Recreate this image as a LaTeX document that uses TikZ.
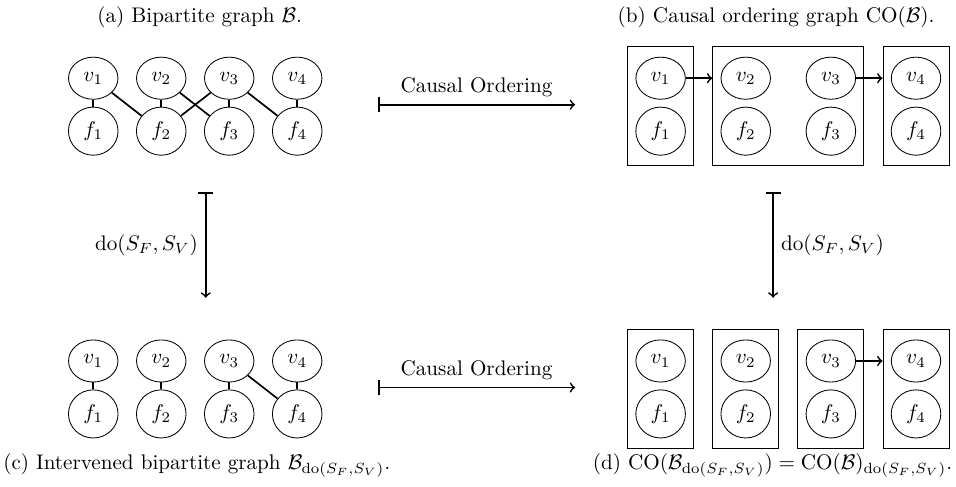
\documentclass[tikz,border=0pt]{standalone}
\usepackage{amssymb}
\usepackage{amsmath}
\usepackage{tikz}
\usetikzlibrary{shapes,arrows}
\usetikzlibrary{positioning}
\usetikzlibrary{fit}
\tikzset{auto, >=to, node distance=1cm, font=\fontsize{10}{12}\selectfont}
\tikzstyle{var} = [draw, ellipse, inner sep=3.6pt, minimum height=0.7cm, on grid]
\tikzstyle{cluster} = [draw, rectangle, inner xsep=3.7pt, inner ysep=4.8pt]
\tikzstyle{edge} = [thick]
\tikzstyle{map} = [thick, |->]
\tikzstyle{input} = [coordinate]
\tikzstyle{caption} = [anchor=base]
\newcommand{\Bg}{\mathcal{B}}
\newcommand{\CO}{\mathrm{CO}}
\newcommand{\dosv}{\mathrm{do}(S_F,S_V)}

\begin{document}
\begin{tikzpicture}
	\useasboundingbox (0,0) rectangle (15.89,-8.09);

	% (a) bipartite graph
	\node [var] (v1) at (1.55,-1.3) {$v_1$};
	\node [var, right=1.13cm of v1] (v2) {$v_2$};
	\node [var, right=1.13cm of v2] (v3) {$v_3$};
	\node [var, right=1.13cm of v3] (v4) {$v_4$};
	\node [var, below=0.88cm of v1] (f1) {$f_1$};
	\node [var, below=0.88cm of v2] (f2) {$f_2$};
	\node [var, below=0.88cm of v3] (f3) {$f_3$};
	\node [var, below=0.88cm of v4] (f4) {$f_4$};
	\node [caption] (cap_a) at (3.32,-0.37) {(a) Bipartite graph $\Bg$.};

	% (b) causal ordering graph
	\node [var] (cv1) at (10.98,-1.3) {$v_1$};
	\node [var, right=1.415cm of cv1] (cv2) {$v_2$};
	\node [var, right=1.415cm of cv2] (cv3) {$v_3$};
	\node [var, right=1.415cm of cv3] (cv4) {$v_4$};
	\node [var, below=0.88cm of cv1] (cf1) {$f_1$};
	\node [var, below=0.88cm of cv2] (cf2) {$f_2$};
	\node [var, below=0.88cm of cv3] (cf3) {$f_3$};
	\node [var, below=0.88cm of cv4] (cf4) {$f_4$};
	\node [cluster, fit=(cv1)(cf1)] (cc1) {};
	\node [cluster, fit=(cv2)(cf3)] (cc23) {};
	\node [cluster, fit=(cv4)(cf4)] (cc4) {};
	\node [caption] (cap_b) at (12.9,-0.37) {(b) Causal ordering graph $\CO(\Bg)$.};

	% (c) intervened bipartite graph
	\node [var] (iv1) at (1.55,-6.0) {$v_1$};
	\node [var, right=1.13cm of iv1] (iv2) {$v_2$};
	\node [var, right=1.13cm of iv2] (iv3) {$v_3$};
	\node [var, right=1.13cm of iv3] (iv4) {$v_4$};
	\node [var, below=0.88cm of iv1] (if1) {$f_1$};
	\node [var, below=0.88cm of iv2] (if2) {$f_2$};
	\node [var, below=0.88cm of iv3] (if3) {$f_3$};
	\node [var, below=0.88cm of iv4] (if4) {$f_4$};
	\node [caption] (cap_c) at (3.27,-7.81) {(c) Intervened bipartite graph $\Bg_{\dosv}$.};

	% (d) intervened causal ordering graph
	\node [var] (icv1) at (10.98,-6.0) {$v_1$};
	\node [var, right=1.415cm of icv1] (icv2) {$v_2$};
	\node [var, right=1.415cm of icv2] (icv3) {$v_3$};
	\node [var, right=1.415cm of icv3] (icv4) {$v_4$};
	\node [var, below=0.88cm of icv1] (icf1) {$f_1$};
	\node [var, below=0.88cm of icv2] (icf2) {$f_2$};
	\node [var, below=0.88cm of icv3] (icf3) {$f_3$};
	\node [var, below=0.88cm of icv4] (icf4) {$f_4$};
	\node [cluster, fit=(icv1)(icf1)] (icc1) {};
	\node [cluster, fit=(icv2)(icf2)] (icc2) {};
	\node [cluster, fit=(icv3)(icf3)] (icc3) {};
	\node [cluster, fit=(icv4)(icf4)] (icc4) {};
	\node [caption, anchor=base east] (cap_d) at (15.95,-7.81) {(d) $\CO(\Bg_{\dosv}) = \CO(\Bg)_{\dosv}$.};

	% ends of the maps
	\node [input] (co_a) at (6.28,-1.74) {};
	\node [input, right=3.28cm of co_a] (co_b) {};
	\node [input] (ico_a) at (6.28,-6.44) {};
	\node [input, right=3.28cm of ico_a] (ico_b) {};
	\node [input] (do_a) at (3.42,-3.19) {};
	\node [input, below=1.76cm of do_a] (do_b) {};
	\node [input] (cdo_a) at (12.85,-3.19) {};
	\node [input, below=1.76cm of cdo_a] (cdo_b) {};

	\draw [edge] (v1) -- (f1);
	\draw [edge] (v2) -- (f2);
	\draw [edge] (v3) -- (f3);
	\draw [edge] (v4) -- (f4);
	\draw [edge] (v1) -- (f2);
	\draw [edge] (v2) -- (f3);
	\draw [edge] (v3) -- (f2);
	\draw [edge] (v3) -- (f4);

	\draw [edge, ->] (cv1) -- (cv1 -| cc23.west);
	\draw [edge, ->] (cv3) -- (cv3 -| cc4.west);

	\draw [edge] (iv1) -- (if1);
	\draw [edge] (iv2) -- (if2);
	\draw [edge] (iv3) -- (if3);
	\draw [edge] (iv4) -- (if4);
	\draw [edge] (iv3) -- (if4);

	\draw [edge, ->] (icv3) -- (icv3 -| icc4.west);

	\draw [map] (co_a) -- node {Causal Ordering} (co_b);
	\draw [map] (ico_a) -- node {Causal Ordering} (ico_b);
	\draw [map] (do_a) -- node [swap] {$\dosv$} (do_b);
	\draw [map] (cdo_a) -- node {$\dosv$} (cdo_b);
\end{tikzpicture}
\end{document}
